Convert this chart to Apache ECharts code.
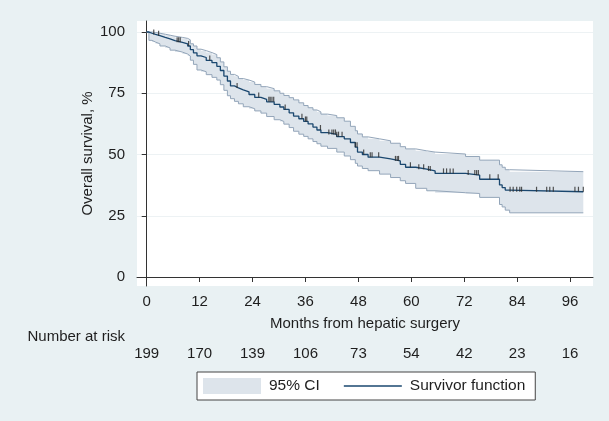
<!DOCTYPE html>
<html>
<head>
<meta charset="utf-8">
<script src="https://cdn.jsdelivr.net/npm/echarts@6/dist/echarts.min.js"></script>
<style>
html,body{margin:0;padding:0;background:#e9f1f3;}
#chart{width:609px;height:421px;}
</style>
</head>
<body>
<div id="chart"></div>
<script>
// ---- data ----
const xTicks = [0, 12, 24, 36, 48, 60, 72, 84, 96];
const yTicks = [0, 25, 50, 75, 100];
const numberAtRisk = [199, 170, 139, 106, 73, 54, 42, 23, 16];

const stepTimes = [0, 0.5, 1.2, 2.0, 3.0, 4.2, 5.3, 6.4, 8.1, 9.3, 9.9, 10.6, 11.4, 12.3, 13.5, 14.8, 15.9, 16.7, 17.5, 18.3, 19.0, 19.9, 20.8, 21.9, 23.2, 24.5, 25.9, 27.2, 28.9, 30.2, 31.1, 32.3, 33.3, 34.5, 35.6, 36.6, 37.7, 38.6, 39.5, 41.0, 43.1, 44.8, 46.2, 47.3, 47.8, 48.9, 50.2, 52.8, 55.3, 57.5, 58.7, 61.0, 63.5, 65.4, 72.3, 75.5, 80.0, 80.6, 81.3, 82.3, 99];
const survival  = [100, 99.5, 99.0, 98.5, 97.8, 97.2, 96.5, 95.8, 95.2, 94.3, 92.8, 91.5, 90.3, 89.6, 88.4, 87.5, 86.0, 84.3, 82.0, 80.0, 78.0, 77.2, 76.4, 75.6, 74.5, 73.3, 72.5, 71.5, 70.5, 69.4, 68.4, 67.0, 65.7, 64.6, 63.5, 62.5, 61.2, 60.0, 58.9, 58.2, 57.3, 56.4, 54.9, 53.0, 51.0, 50.0, 48.9, 48.2, 47.4, 46.0, 44.8, 44.0, 43.3, 42.3, 41.6, 39.9, 37.6, 36.5, 35.5, 34.8, 34.8];
const ciUpper   = [100, 100, 99.8, 99.5, 99.1, 98.7, 98.3, 97.8, 97.4, 96.8, 95.2, 94.3, 93.0, 92.4, 91.6, 90.8, 89.5, 87.8, 85.8, 84.0, 82.7, 81.9, 81.0, 80.4, 79.6, 78.6, 77.7, 76.9, 76.0, 75.0, 74.1, 73.2, 72.3, 71.1, 70.0, 69.1, 68.2, 67.4, 66.5, 65.9, 65.0, 63.6, 61.5, 59.7, 58.4, 57.2, 56.4, 55.6, 54.6, 53.2, 52.3, 51.5, 51.0, 50.2, 49.2, 47.7, 45.8, 44.8, 43.8, 43.0, 43.0];
const ciLower   = [100, 96.6, 95.9, 95.2, 94.3, 93.5, 92.6, 91.8, 91.0, 90.2, 88.5, 86.8, 84.5, 83.8, 82.6, 81.5, 80.4, 78.5, 76.2, 74.0, 72.8, 71.7, 70.7, 69.5, 68.7, 67.8, 66.9, 65.5, 64.2, 63.5, 62.4, 61.0, 59.5, 58.3, 57.4, 56.4, 55.3, 54.4, 53.4, 52.5, 51.0, 49.4, 47.9, 46.4, 45.3, 44.3, 43.4, 42.0, 40.6, 39.3, 38.2, 36.2, 35.2, 34.4, 34.1, 32.5, 29.6, 28.6, 27.3, 26.2, 26.2];

const censorTimes = [1.6, 2.7, 6.9, 7.25, 7.6, 9.5, 14.3, 20.5, 25.4, 27.7, 28.0, 28.4, 28.8, 31.4, 35.2, 36.0, 36.3, 39.4, 41.3, 42.0, 42.4, 42.8, 43.1, 43.5, 44.3, 47.3, 47.7, 49.2, 50.7, 51.1, 52.6, 56.4, 56.8, 57.1, 59.8, 61.7, 62.8, 63.9, 64.3, 67.3, 68.0, 68.8, 69.5, 72.9, 74.4, 74.8, 75.2, 77.8, 79.7, 82.4, 83.1, 83.9, 84.6, 85.0, 88.4, 90.7, 91.4, 92.2, 97.1, 97.9, 99];

// ---- build series data ----
const upperData = stepTimes.map((t, i) => [t, ciUpper[i]]);
const lowerData = stepTimes.map((t, i) => [t, ciLower[i]]);
const survData  = stepTimes.map((t, i) => [t, survival[i]]);
function survAt(t) {
  let v = survival[0];
  for (let i = 0; i < stepTimes.length; i++) { if (stepTimes[i] <= t) v = survival[i]; }
  return v;
}
const censorData = censorTimes.map(t => [t, survAt(t)]);
const riskByTick = {};
xTicks.forEach((t, i) => { riskByTick[t] = numberAtRisk[i]; });

const FONT = 'Liberation Sans, Arial, Helvetica, sans-serif';
const TXT = '#1e1e1e';
const AX = '#333333';
const BAND = '#dde4eb';
const CILINE = '#93a5b9';
const SURV = '#1a476f';

function renderBand(params, api) {
  if (params.dataIndex !== 0) return null;
  const pts = [];
  const n = stepTimes.length;
  for (let i = 0; i < n; i++) {
    pts.push(api.coord([stepTimes[i], ciUpper[i]]));
    if (i < n - 1) pts.push(api.coord([stepTimes[i + 1], ciUpper[i]]));
  }
  for (let i = n - 1; i >= 0; i--) {
    if (i < n - 1) pts.push(api.coord([stepTimes[i + 1], ciLower[i]]));
    pts.push(api.coord([stepTimes[i], ciLower[i]]));
  }
  return {type: 'polygon', shape: {points: pts}, style: {fill: BAND, stroke: null}};
}

const chart = echarts.init(document.getElementById('chart'), null, {renderer: 'canvas'});
chart.setOption({
  backgroundColor: '#e9f1f3',
  animation: false,
  textStyle: {fontFamily: FONT},
  grid: {left: 137, top: 21, width: 456, height: 265, show: true, backgroundColor: '#ffffff', borderWidth: 0},
  xAxis: [{
    type: 'value', min: -2.2, max: 101.2,
    axisLine: {show: true, lineStyle: {color: AX, width: 1}},
    axisTick: {show: true, length: 5, customValues: xTicks, lineStyle: {color: AX}},
    axisLabel: {customValues: xTicks, margin: 8, fontSize: 15, color: TXT, fontFamily: FONT},
    splitLine: {show: false},
    name: 'Months from hepatic surgery', nameLocation: 'middle', nameGap: 30, nameMoveOverlap: false,
    nameTextStyle: {fontSize: 15, color: TXT, fontFamily: FONT}
  }, {
    type: 'value', min: -2.2, max: 101.2, position: 'bottom', offset: 51, gridIndex: 0,
    axisLine: {show: false}, axisTick: {show: false}, splitLine: {show: false},
    axisLabel: {customValues: xTicks, margin: 9, fontSize: 15, color: TXT, fontFamily: FONT,
      formatter: v => String(riskByTick[v] ?? '')},
    name: 'Number at risk', nameLocation: 'start', nameGap: 12, nameMoveOverlap: false,
    nameTextStyle: {fontSize: 15, color: TXT, fontFamily: FONT, verticalAlign: 'middle'}
  }],
  yAxis: {
    type: 'value', min: -3.67, max: 104.5,
    axisLine: {show: true, lineStyle: {color: AX, width: 1}},
    axisTick: {show: true, length: 5, customValues: yTicks, lineStyle: {color: AX}},
    axisLabel: {customValues: yTicks, margin: 12, fontSize: 15, color: TXT, fontFamily: FONT},
    splitLine: {show: true, lineStyle: {color: '#edf2f4', width: 1}},
    name: 'Overall survival, %', nameLocation: 'middle', nameGap: 42, nameMoveOverlap: false,
    nameTextStyle: {fontSize: 15, color: TXT, fontFamily: FONT}
  },
  legend: {
    left: 197, top: 372, orient: 'horizontal',
    padding: [6, 10, 6, 6], itemWidth: 58, itemHeight: 16, itemGap: 24,
    backgroundColor: '#ffffff', borderColor: '#444444', borderWidth: 1, borderRadius: 0,
    textStyle: {fontSize: 15.5, color: TXT, fontFamily: FONT, padding: [0, 0, 0, 3]},
    selectedMode: false,
    data: [
      {name: '95% CI', icon: 'rect', itemStyle: {color: BAND, borderWidth: 0}},
      {name: 'Survivor function', icon: 'path://M0,0L100,0L100,2.2L0,2.2Z', itemStyle: {color: SURV, borderWidth: 0}}
    ]
  },
  series: [
    {name: '95% CI', type: 'custom', renderItem: renderBand, data: [[stepTimes[0], ciUpper[0]]],
     itemStyle: {color: BAND}, silent: true, z: 1},
    {name: 'upperCI', type: 'line', step: 'end', data: upperData, symbol: 'none',
     lineStyle: {color: CILINE, width: 1}, silent: true, z: 2},
    {name: 'lowerCI', type: 'line', step: 'end', data: lowerData, symbol: 'none',
     lineStyle: {color: CILINE, width: 1}, silent: true, z: 2},
    {name: 'Survivor function', type: 'line', step: 'end', data: survData, symbol: 'none',
     lineStyle: {color: SURV, width: 1.3}, itemStyle: {color: SURV}, silent: true, z: 3},
    {name: 'censored', type: 'scatter', data: censorData, symbol: 'rect', symbolSize: [1.2, 5],
     symbolOffset: [0, -2.5], itemStyle: {color: '#2a2a2a'}, silent: true, z: 4}
  ]
});
</script>
</body>
</html>
